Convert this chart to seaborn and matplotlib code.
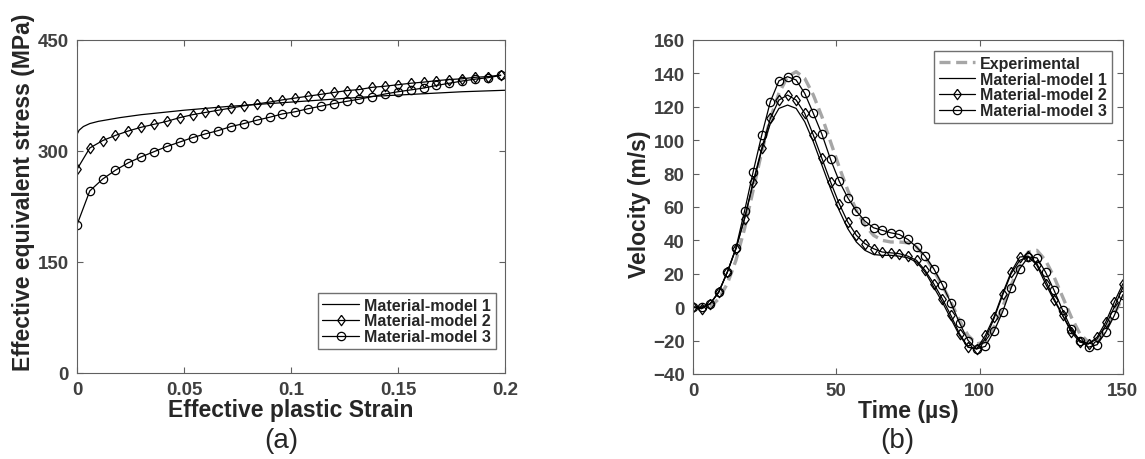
import matplotlib
matplotlib.use("Agg")
import matplotlib.pyplot as plt
import seaborn as sns

# ---- data ----
# (a) stress-strain curves
strain_m1 = [0, 0.001, 0.003, 0.006, 0.01, 0.02, 0.03, 0.04, 0.05, 0.06, 0.07, 0.08,
             0.09, 0.1, 0.11, 0.12, 0.13, 0.14, 0.15, 0.16, 0.17, 0.18, 0.19, 0.2]
stress_m1 = [322, 328, 333, 337, 340, 345, 349, 352, 355, 357.5, 360, 362,
             364, 366, 368, 370, 372, 374, 375.5, 377, 378.5, 380, 381, 382]

strain_pts = [0.0, 0.006, 0.012, 0.018, 0.024, 0.030, 0.036, 0.042, 0.048, 0.054,
              0.060, 0.066, 0.072, 0.078, 0.084, 0.090, 0.096, 0.102, 0.108, 0.114,
              0.120, 0.126, 0.132, 0.138, 0.144, 0.150, 0.156, 0.162, 0.168, 0.174,
              0.180, 0.186, 0.192, 0.198]
stress_m2 = [275, 304, 314, 321, 327, 332, 336, 340, 345, 349,
             352, 355, 358, 361, 363.5, 366, 369, 371.5, 374, 376.5,
             379, 381.5, 383, 386, 387.5, 389.5, 391.5, 393, 395, 396.5,
             397.5, 399.5, 400.5, 402.5]
stress_m3 = [200, 246, 262, 274, 284, 292, 299, 306, 312, 318,
             323, 327.5, 333, 337, 341.5, 345.5, 350, 353, 357, 360.5,
             364, 367, 370, 373.5, 377, 380, 382.5, 385, 388.5, 391.5,
             394.5, 397, 399, 402]

# (b) velocity histories
time_us = [0, 3, 6, 9, 12, 15, 18, 21, 24, 27, 30, 33, 36, 39, 42, 45, 48, 51, 54,
           57, 60, 63, 66, 69, 72, 75, 78, 81, 84, 87, 90, 93, 96, 99, 102, 105,
           108, 111, 114, 117, 120, 123, 126, 129, 132, 135, 138, 141, 144, 147, 150]
vel_exp = [0, 0, 0, 5, 14, 28, 47, 70, 93, 113, 128, 138, 141, 137, 127, 114, 99, 84, 70,
           58, 49, 43, 40, 39, 39, 38.5, 36, 30, 22, 13, 3, -8, -17, -22, -21, -12,
           0, 13, 25, 33, 34, 28, 18, 6, -6, -16, -21, -21, -14, -4, 6]
vel_m1 = [0, -0.5, 2, 9, 21, 35, 53, 74, 94, 110, 119, 121, 119, 111, 99, 85, 71, 58, 47,
          39, 34, 31.5, 31, 31, 30.5, 29.5, 27, 21, 12, 3, -7, -17, -24, -25, -19, -7,
          7, 20, 28, 30, 26, 16, 5, -5, -14, -20, -22, -19, -11, 0, 12]
vel_m2 = [0, -1, 2, 9, 21, 35, 53, 75, 95, 113, 124, 127, 124, 116, 103, 89, 75, 62, 51,
          43, 38, 35, 33, 32.5, 32, 30.5, 28, 22, 14, 5, -5, -16, -24, -25, -17, -6,
          8, 21, 30, 30.5, 25, 14, 4, -5, -15, -21, -22, -18, -9, 3, 14]
vel_m3 = [0, 0, 2, 9, 21, 35.5, 57.5, 81, 103, 123, 135.5, 138, 136, 128, 116, 103.5, 88.5, 75.5, 65.5,
          57.5, 51.5, 47.5, 46, 44.5, 43.5, 40.5, 36, 30.5, 23, 13.5, 2.5, -9.5, -20, -25, -23.5, -14.5,
          -3, 11.5, 23, 30, 29.5, 21, 10, -2, -13, -20, -24, -22.5, -15, -5, 7.5]

labels = ["Material-model 1", "Material-model 2", "Material-model 3"]

sns.set_style("ticks")
plt.rcParams["font.family"] = ["Liberation Sans", "DejaVu Sans"]
plt.rcParams["font.weight"] = "bold"

tick_col = "#404040"
spine_col = "#606060"
diamond = [(0, 1), (0.72, 0), (0, -1), (-0.72, 0), (0, 1)]

fig = plt.figure(figsize=(11.45, 4.6), dpi=100)
ax1 = fig.add_axes([0.0672, 0.187, 0.3738, 0.724])
ax2 = fig.add_axes([0.6052, 0.185, 0.3755, 0.726])

line_kw = dict(color="black", lw=0.9)
m2_kw = dict(marker=diamond, ms=7.5, mfc="none", mec="black", mew=0.9)
m3_kw = dict(marker="o", ms=6, mfc="none", mec="black", mew=0.9)
leg_kw = dict(frameon=True, fancybox=False, edgecolor="#707070", framealpha=1,
              handlelength=2.3, handletextpad=0.3, labelspacing=0.05, borderpad=0.3,
              borderaxespad=0, prop={"weight": "bold", "size": 11.5})

# -------------------------
# (a) stress vs strain
# -------------------------
sns.lineplot(x=strain_m1, y=stress_m1, ax=ax1, label=labels[0], **line_kw)
sns.lineplot(x=strain_pts, y=stress_m2, ax=ax1, label=labels[1], **line_kw, **m2_kw)
sns.lineplot(x=strain_pts, y=stress_m3, ax=ax1, label=labels[2], **line_kw, **m3_kw)
ax1.set_xlim(0, 0.2)
ax1.set_ylim(0, 450)
ax1.set_xticks([0, 0.05, 0.1, 0.15, 0.2])
ax1.set_xticklabels(["0", "0.05", "0.1", "0.15", "0.2"])
ax1.set_yticks([0, 150, 300, 450])
ax1.set_xlabel("Effective plastic Strain", fontsize=16.5, fontweight="bold", labelpad=0)
ax1.set_ylabel("Effective equivalent stress (MPa)", fontsize=16.5, fontweight="bold")
ax1.yaxis.set_label_coords(-0.098, 0.546)
ax1.legend(loc="lower right", bbox_to_anchor=(0.978, 0.072), **leg_kw)

# -------------------------
# (b) velocity vs time
# -------------------------
sns.lineplot(x=time_us, y=vel_exp, ax=ax2, label="Experimental", color="#a6a6a6",
             lw=2.4, linestyle=(0, (3.3, 1.7)))
sns.lineplot(x=time_us, y=vel_m1, ax=ax2, label=labels[0], **line_kw)
sns.lineplot(x=time_us, y=vel_m2, ax=ax2, label=labels[1], **line_kw, **m2_kw)
sns.lineplot(x=time_us, y=vel_m3, ax=ax2, label=labels[2], **line_kw, **m3_kw)
ax2.set_xlim(0, 150)
ax2.set_ylim(-40, 160)
ax2.set_xticks([0, 50, 100, 150])
ax2.set_yticks(range(-40, 161, 20))
ax2.set_xlabel("Time (µs)", fontsize=16.5, fontweight="bold", labelpad=0)
ax2.set_ylabel("Velocity (m/s)", fontsize=16.5, fontweight="bold")
ax2.yaxis.set_label_coords(-0.098, 0.512)
ax2.legend(loc="upper right", bbox_to_anchor=(0.974, 0.967), **leg_kw)

for ax in (ax1, ax2):
    ax.tick_params(direction="in", top=True, right=True, length=4, width=0.8,
                   color=spine_col, labelcolor=tick_col, labelsize=13.5, pad=6)
    for lab in ax.get_xticklabels() + ax.get_yticklabels():
        lab.set_fontweight("bold")
    for sp in ax.spines.values():
        sp.set_visible(True)
        sp.set_color(spine_col)
        sp.set_linewidth(0.8)

fig.text(0.2454, 0.041, "(a)", fontsize=20, fontweight="normal", ha="center", va="center")
fig.text(0.7834, 0.041, "(b)", fontsize=20, fontweight="normal", ha="center", va="center")

fig.savefig("out.png", dpi=100)
